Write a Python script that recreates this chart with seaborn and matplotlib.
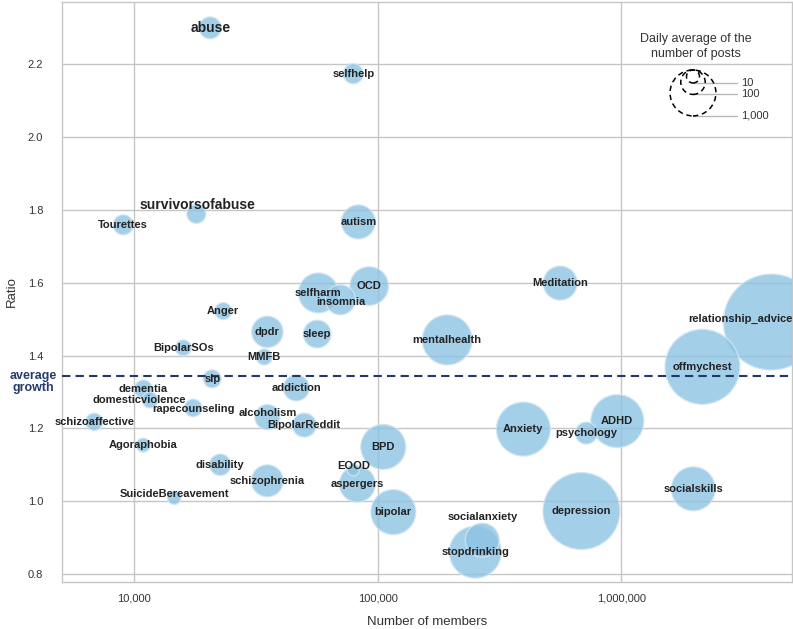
import numpy as np
import pandas as pd
import matplotlib
matplotlib.use("Agg")
import matplotlib.pyplot as plt
import matplotlib.transforms as mtransforms
from matplotlib.ticker import FixedLocator, FixedFormatter, NullLocator
import seaborn as sns

# ---------------- data ----------------
subreddits = ["abuse", "selfhelp", "survivorsofabuse", "Tourettes", "autism", "selfharm", "OCD",
              "insomnia", "Anger", "dpdr", "sleep", "BipolarSOs", "MMFB", "slp", "addiction",
              "dementia", "domesticviolence", "rapecounseling", "schizoaffective", "alcoholism",
              "BipolarReddit", "Agoraphobia", "disability", "schizophrenia", "SuicideBereavement",
              "BPD", "EOOD", "aspergers", "bipolar", "Meditation", "relationship_advice",
              "mentalhealth", "offmychest", "Anxiety", "psychology", "ADHD", "depression",
              "socialskills", "socialanxiety", "stopdrinking"]
members = [20500, 79300, 17980, 9010, 83200, 57000, 92200,
           70200, 23200, 35200, 56400, 15900, 34200, 20900, 46300,
           10900, 11600, 17460, 6850, 35200,
           49900, 10890, 22540, 35200, 14590,
           105300, 79300, 82400, 115800, 561000, 4130000,
           192800, 2153000, 396000, 718000, 963000, 686000,
           1975000, 268500, 251400]
ratio = [2.300, 2.174, 1.789, 1.759, 1.767, 1.572, 1.591,
         1.553, 1.522, 1.465, 1.459, 1.421, 1.396, 1.336, 1.311,
         1.308, 1.278, 1.256, 1.218, 1.231,
         1.209, 1.154, 1.100, 1.056, 1.009,
         1.149, 1.086, 1.047, 0.970, 1.599, 1.492,
         1.443, 1.369, 1.198, 1.187, 1.220, 0.973,
         1.034, 0.893, 0.860]
daily_posts = [68, 48, 40, 48, 334, 604, 530,
               211, 27, 250, 160, 21, 21, 33, 125,
               33, 21, 30, 28, 110,
               94, 13, 62, 267, 11,
               930, 7.5, 411, 930, 334, 14760,
               1365, 5990, 1806, 68, 1690, 6600,
               856, 334, 1574]
average_growth = 1.345

legend_posts = [10, 100, 1000]
legend_labels = ["10", "100", "1,000"]
x_ticks = [10000, 100000, 1000000]
x_tick_labels = ["10,000", "100,000", "1,000,000"]
y_ticks = [0.8, 1.0, 1.2, 1.4, 1.6, 1.8, 2.0, 2.2]
y_tick_labels = ["0.8", "1.0", "1.2", "1.4", "1.6", "1.8", "2.0", "2.2"]
big_labels = ["abuse", "survivorsofabuse"]
# label nudges in points (dx, dy)
label_offsets = {"survivorsofabuse": (1, 6.5), "domesticviolence": (-8, 0),
                 "relationship_advice": (-22, 2), "socialanxiety": (0, 16.5),
                 "EOOD": (0, 3), "alcoholism": (0, 3), "SuicideBereavement": (0, 3),
                 "insomnia": (0, -1.5), "rapecounseling": (0, -1)}

# ---------------- style ----------------
sns.set_theme(style="whitegrid")
plt.rcParams['font.family'] = ['Liberation Sans', 'DejaVu Sans']

fig = plt.figure(figsize=(7.93, 6.29), dpi=100)
ax = fig.add_axes([0.0782, 0.0747, 0.9205, 0.9221])


def radius_pt(p):
    return 2.49 * np.power(np.asarray(p, dtype=float), 0.274)


df = pd.DataFrame({"name": subreddits, "members": members, "ratio": ratio, "posts": daily_posts})
df["s"] = (2 * radius_pt(df["posts"])) ** 2
df = df.sort_values("posts", ascending=False).reset_index(drop=True)

sns.scatterplot(data=df, x="members", y="ratio", s=df["s"].values, color="#8ec3e3", alpha=0.8,
                edgecolor="#d3e6f2", linewidth=1.0, ax=ax, legend=False, zorder=3)

ax.set_xscale("log")
ax.set_xlim(5050, 5.02e6)
ax.set_ylim(0.778, 2.371)

ax.xaxis.set_major_locator(FixedLocator(x_ticks))
ax.xaxis.set_major_formatter(FixedFormatter(x_tick_labels))
ax.xaxis.set_minor_locator(NullLocator())
ax.yaxis.set_major_locator(FixedLocator(y_ticks))
ax.yaxis.set_major_formatter(FixedFormatter(y_tick_labels))

ax.grid(True, color="#c6c6c6", linewidth=1.0, zorder=0)
ax.set_axisbelow(True)
for sp in ax.spines.values():
    sp.set_color("#c6c6c6")
    sp.set_linewidth(1.0)
ax.tick_params(axis="both", length=0, labelsize=8, labelcolor="#333333")
ax.tick_params(axis="y", pad=13.5)
ax.tick_params(axis="x", pad=8)

ax.set_xlabel("Number of members", fontsize=9.5, color="#333333")
ax.set_ylabel("Ratio", fontsize=9.5, color="#333333")
ax.xaxis.set_label_coords(0.5, -0.058)
ax.yaxis.set_label_coords(-0.061, 0.5)

# average growth line
ax.axhline(average_growth, color="#1f3a68", linestyle=(0, (4, 2.5)), linewidth=1.5, zorder=4)
ax.annotate("average\ngrowth", xy=(-0.007, average_growth),
            xycoords=mtransforms.blended_transform_factory(ax.transAxes, ax.transData),
            xytext=(0, -4.5), textcoords="offset points", ha="right", va="center",
            multialignment="center", fontsize=9, fontweight="bold", color="#253b6e",
            linespacing=1.05, annotation_clip=False)

# bubble labels
for _, row in df.iterrows():
    dx, dy = label_offsets.get(row["name"], (0, 0))
    fs = 10 if row["name"] in big_labels else 8
    ax.annotate(row["name"], (row["members"], row["ratio"]), xytext=(dx, dy),
                textcoords="offset points", ha="center", va="center", fontsize=fs,
                fontweight="bold", color="#222222", zorder=6, annotation_clip=False)

# size legend
ax.text(0.8685, 0.924, "Daily average of the\nnumber of posts", transform=ax.transAxes,
        ha="center", va="center", fontsize=9, color="#333333", linespacing=1.35, zorder=7)
anchor_x, anchor_y = 0.8644, 0.8828
for p, lab in zip(legend_posts, legend_labels):
    r = float(radius_pt(p))
    tr_c = ax.transAxes + mtransforms.ScaledTranslation(0, -r / 72, fig.dpi_scale_trans)
    tr_b = ax.transAxes + mtransforms.ScaledTranslation(0, -2 * r / 72, fig.dpi_scale_trans)
    ax.scatter([anchor_x], [anchor_y], s=(2 * r) ** 2, transform=tr_c, facecolors="none",
               edgecolors="black", linestyle=(0, (3.5, 2.5)), linewidths=1.1, zorder=7, clip_on=False)
    ax.plot([anchor_x, 0.9247], [anchor_y, anchor_y], transform=tr_b, color="#b8b8b8",
            linewidth=1.0, zorder=6, clip_on=False)
    ax.text(0.930, anchor_y, lab, transform=tr_b, ha="left", va="center", fontsize=8,
            color="#333333", zorder=7)

fig.savefig("out.png", dpi=100)
